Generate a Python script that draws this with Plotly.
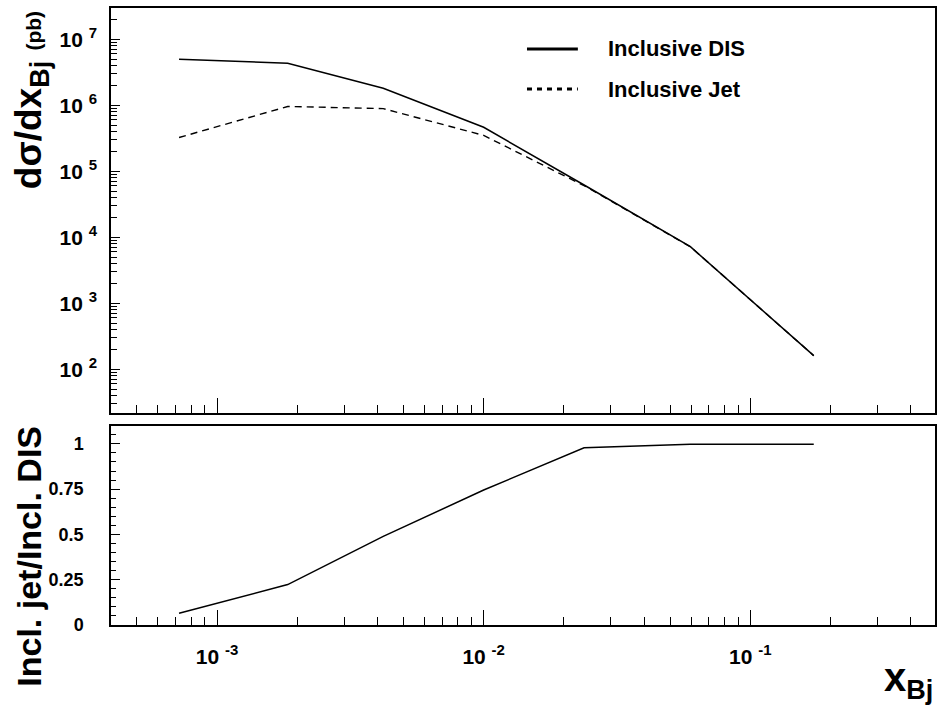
import math
import plotly.graph_objects as go

# ---- data ----
x_bj = [7.2e-4, 1.84e-3, 4.2e-3, 1.0e-2, 2.38e-2, 5.96e-2, 0.173]
dis_xsec = [5.0e6, 4.33e6, 1.81e6, 4.64e5, 6.2e4, 7.2e3, 161]
jet_xsec = [3.25e5, 9.6e5, 8.9e5, 3.5e5, 6.06e4, 7.19e3, 161]
ratio = [0.065, 0.223, 0.489, 0.745, 0.978, 0.997, 0.998]

series_names = ["Inclusive DIS", "Inclusive Jet"]

SUP = "<sup><span style='font-size:15px'>{}</span></sup>"
top_tickvals = [1e2, 1e3, 1e4, 1e5, 1e6, 1e7]
top_ticktext = ["10 " + SUP.format(e) for e in ["2", "3", "4", "5", "6", "7"]]
x_tickvals = [1e-3, 1e-2, 1e-1]
x_ticktext = ["10 " + SUP.format(e) for e in ["-3", "-2", "-1"]]
ratio_tickvals = [0, 0.25, 0.5, 0.75, 1]
ratio_ticktext = ["0", "0.25", "0.5", "0.75", "1"]

# minor tick positions on the log axes (2..9 x 10^n)
x_minor = [m * 10.0 ** e for e in range(-4, 0) for m in range(2, 10)]
y_minor = [m * 10.0 ** e for e in range(1, 8) for m in range(2, 10)]

FONT = "Liberation Sans, Arial, Helvetica, sans-serif"
W, H = 939, 709
ML, MR, MT, MB = 111, 2, 8, 84
PW = W - ML - MR
PH = H - MT - MB


def px(xpix):
    return (xpix - ML) / PW


def py(ypix):
    return (H - MB - ypix) / PH


fig = go.Figure()

fig.add_trace(go.Scatter(x=x_bj, y=dis_xsec, mode="lines", name=series_names[0],
                         line=dict(color="black", width=1.5), showlegend=False,
                         xaxis="x", yaxis="y"))
fig.add_trace(go.Scatter(x=x_bj, y=jet_xsec, mode="lines", name=series_names[1],
                         line=dict(color="black", width=1.4, dash="7px,5px"),
                         showlegend=False, xaxis="x", yaxis="y"))
fig.add_trace(go.Scatter(x=x_bj, y=ratio, mode="lines", showlegend=False,
                         line=dict(color="black", width=1.5), xaxis="x2", yaxis="y2"))
# invisible copies so that the minor-tick overlay axes are drawn
fig.add_trace(go.Scatter(x=x_bj, y=dis_xsec, mode="lines", opacity=0, hoverinfo="skip",
                         showlegend=False, xaxis="x3", yaxis="y3"))
fig.add_trace(go.Scatter(x=x_bj, y=ratio, mode="lines", opacity=0, hoverinfo="skip",
                         showlegend=False, xaxis="x4", yaxis="y2"))

xr = [math.log10(4.0e-4), math.log10(0.493)]
yr_top = [1.338, 7.474]
top_dom = [py(413), 1.0]
bot_dom = [0.0, py(425.7)]

frame = dict(showline=True, linecolor="black", linewidth=1.5, mirror=True,
             showgrid=False, zeroline=False, tickcolor="black", tickwidth=1)

major_x = dict(type="log", range=xr, ticks="inside", ticklen=15,
               tickvals=x_tickvals, ticktext=x_ticktext,
               tickfont=dict(family=FONT, size=21, color="black", weight="bold"), **frame)
minor_x = dict(type="log", range=xr, ticks="inside", ticklen=8, tickvals=x_minor,
               showticklabels=False, showline=False, showgrid=False, zeroline=False,
               tickcolor="black", tickwidth=1)

fig.update_layout(
    xaxis=dict(anchor="y", domain=[0, 1], showticklabels=False, **major_x),
    xaxis2=dict(anchor="y2", domain=[0, 1], ticklabelstandoff=12, **major_x),
    xaxis3=dict(anchor="y", overlaying="x", side="bottom", **minor_x),
    xaxis4=dict(anchor="y2", overlaying="x2", side="bottom", **minor_x),
    yaxis=dict(type="log", range=yr_top, domain=top_dom, anchor="x", ticks="inside",
               ticklen=9, tickvals=top_tickvals, ticktext=top_ticktext,
               ticklabelstandoff=8,
               tickfont=dict(family=FONT, size=21, color="black", weight="bold"), **frame),
    yaxis3=dict(type="log", range=yr_top, anchor="x", overlaying="y", side="left",
                ticks="inside", ticklen=6, tickvals=y_minor, showticklabels=False,
                showline=False, showgrid=False, zeroline=False, tickcolor="black",
                tickwidth=1),
    yaxis2=dict(range=[0, 1.1], domain=bot_dom, anchor="x2", ticks="inside", ticklen=9,
                tickvals=ratio_tickvals, ticktext=ratio_ticktext, ticklabelstandoff=22,
                minor=dict(ticks="inside", ticklen=5, tickwidth=1, tickcolor="black",
                           dtick=0.05, showgrid=False),
                tickfont=dict(family=FONT, size=18, color="black", weight="bold"), **frame),
)

annotations = [
    dict(text="dσ/dx<sub><span style='font-size:27px'>Bj</span></sub> "
              "<span style='font-size:21px'>(pb)</span>",
         textangle=-90, xref="paper", yref="paper", x=px(31), xanchor="center",
         y=py(9), yanchor="top", showarrow=False,
         font=dict(family=FONT, size=37, color="black", weight="bold")),
    dict(text="Incl. jet/Incl. DIS", textangle=-90, xref="paper", yref="paper",
         x=px(28), xanchor="center", y=py(424), yanchor="top",
         showarrow=False, font=dict(family=FONT, size=34, color="black", weight="bold")),
    dict(text="x<sub><span style='font-size:27px'>Bj</span></sub>", xref="paper",
         yref="paper", x=px(937), xanchor="right", y=py(707), yanchor="bottom",
         showarrow=False, font=dict(family=FONT, size=40, color="black", weight="bold")),
]

# legend drawn as a key: sample lines plus labels
legend_rows = [(49, "solid"), (89, "5px,5px")]
shapes = []
for (ypix, dash), name in zip(legend_rows, series_names):
    shapes.append(dict(type="line", xref="paper", yref="paper", x0=px(528), x1=px(579),
                       y0=py(ypix), y1=py(ypix), line=dict(color="black", width=3, dash=dash)))
    annotations.append(dict(text=name, xref="paper", yref="paper", x=px(607), xanchor="left",
                            y=py(ypix), yanchor="middle", showarrow=False,
                            font=dict(family=FONT, size=22, color="black", weight="bold")))

fig.update_layout(
    width=W, height=H, margin=dict(l=ML, r=MR, t=MT, b=MB, pad=0),
    paper_bgcolor="white", plot_bgcolor="white",
    annotations=annotations, shapes=shapes, showlegend=False,
)

fig.write_html("out.html", config={"displayModeBar": False},
               post_script="document.body.style.margin='0px';")
